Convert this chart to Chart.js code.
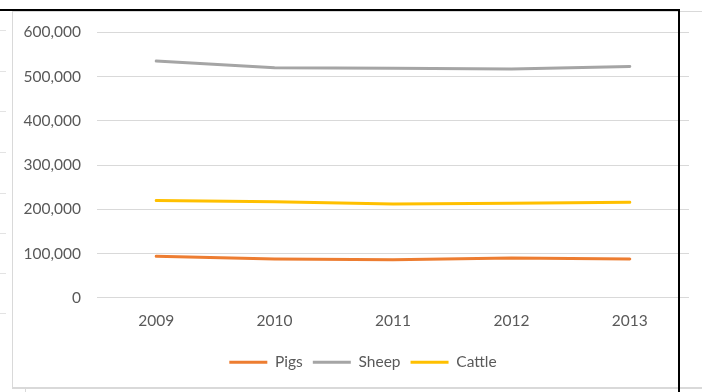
<!DOCTYPE html>
<html>
<head>
<meta charset="utf-8">
<script src="https://cdn.jsdelivr.net/npm/chart.js@4"></script>
<style>
  html, body { margin: 0; padding: 0; background: #fff; }
  body { width: 702px; height: 392px; position: relative; overflow: hidden; }
  .frame { position: absolute; left: 12px; top: 11px; width: 720px; height: 375px;
           border-left: 1px solid #d9d9d9; border-top: 1px solid #d9d9d9; border-bottom: 2px solid #d9d9d9; }
  #chart { position: absolute; left: 13px; top: 7px; }
  .blk { position: absolute; background: #000; }
  .row { position: absolute; left: 0; width: 6px; height: 1px; background: #e3e3e3; }
</style>
</head>
<body>
<div class="frame"></div>
<canvas id="chart" width="700" height="379"></canvas>
<div class="blk" style="left:0;top:9px;width:680px;height:2px"></div>
<div class="blk" style="left:678px;top:9px;width:2px;height:383px"></div>
<div class="row" style="top:30px"></div>
<div class="row" style="top:71px"></div>
<div class="row" style="top:111px"></div>
<div class="row" style="top:152px"></div>
<div class="row" style="top:193px"></div>
<div class="row" style="top:233px"></div>
<div class="row" style="top:273px"></div>
<div class="row" style="top:313px"></div>
<div style="position:absolute;left:25px;top:389px;width:1px;height:3px;background:#d9d9d9"></div>
<script>
// livestock numbers per year
const years = ['2009', '2010', '2011', '2012', '2013'];
const pigs = [94000, 88000, 86000, 90000, 88000];
const sheep = [535000, 520000, 519000, 517000, 523000];
const cattle = [220000, 217000, 212000, 214000, 216000];
const yTicks = [0, 100000, 200000, 300000, 400000, 500000, 600000];

const ctx = document.getElementById('chart').getContext('2d');

function series(label, data, color) {
    return {
        label: label,
        data: data,
        borderColor: color,
        backgroundColor: color,
        borderWidth: 3,
        borderCapStyle: 'round',
        tension: 0,
        pointRadius: 0,
        pointStyle: 'line'
    };
}

// nudge the legend row sideways after layout
const legendShift = {
    id: 'legendShift',
    afterLayout(chart) {
        chart.legend.left += 7;
        chart.legend.right += 7;
    }
};

const font = { family: 'Lato', size: 15.5 };

let chart = new Chart(ctx, {
    type: 'line',
    data: {
        labels: years,
        datasets: [
            series('Pigs', pigs, '#ED7D31'),
            series('Sheep', sheep, '#A5A5A5'),
            series('Cattle', cattle, '#FFC000')
        ]
    },
    plugins: [legendShift],
    options: {
        responsive: false,
        animation: false,
        layout: { padding: { left: 10, right: 24, top: 0, bottom: 6 } },
        plugins: {
            tooltip: { enabled: false },
            legend: {
                position: 'bottom',
                labels: {
                    usePointStyle: true,
                    pointStyleWidth: 38,
                    padding: 10,
                    color: '#595959',
                    font: font
                }
            }
        },
        scales: {
            x: {
                offset: true,
                grid: { display: false, drawTicks: false },
                border: { display: false },
                ticks: { color: '#595959', font: font, padding: 14 }
            },
            y: {
                min: yTicks[0],
                max: yTicks[yTicks.length - 1],
                afterBuildTicks: axis => { axis.ticks = yTicks.map(v => ({ value: v })); },
                afterFit: axis => { axis.width = 74; },
                grid: { color: '#d9d9d9', drawTicks: false },
                border: { display: false },
                ticks: { color: '#595959', font: font, padding: 16 }
            }
        }
    }
});
</script>
</body>
</html>
